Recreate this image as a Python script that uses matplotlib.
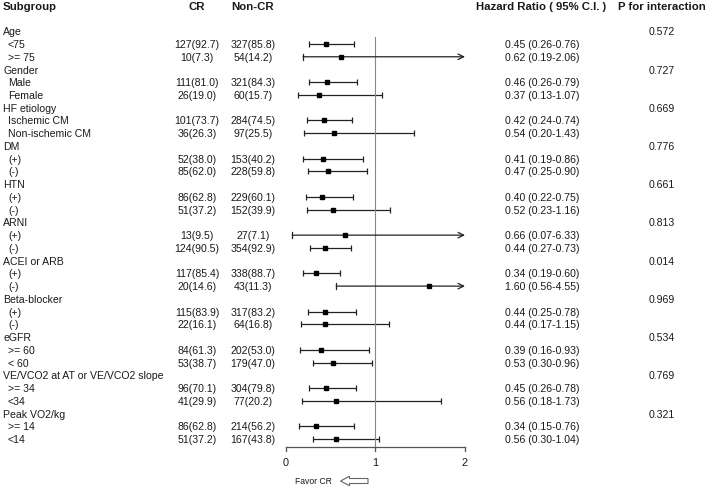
import matplotlib
matplotlib.use("Agg")
import matplotlib.pyplot as plt
from matplotlib.transforms import blended_transform_factory

plt.rcParams['font.family'] = ['Liberation Sans', 'DejaVu Sans']

groups = ["Age", "Gender", "HF etiology", "DM", "HTN", "ARNI", "ACEI or ARB",
          "Beta-blocker", "eGFR", "VE/VCO2 at AT or VE/VCO2 slope", "Peak VO2/kg"]
subgroups = [["<75", ">= 75"], ["Male", "Female"], ["Ischemic CM", "Non-ischemic CM"],
             ["(+)", "(-)"], ["(+)", "(-)"], ["(+)", "(-)"], ["(+)", "(-)"],
             ["(+)", "(-)"], [">= 60", "< 60"], [">= 34", "<34"], [">= 14", "<14"]]
cr = ["127(92.7)", "10(7.3)", "111(81.0)", "26(19.0)", "101(73.7)", "36(26.3)",
      "52(38.0)", "85(62.0)", "86(62.8)", "51(37.2)", "13(9.5)", "124(90.5)",
      "117(85.4)", "20(14.6)", "115(83.9)", "22(16.1)", "84(61.3)", "53(38.7)",
      "96(70.1)", "41(29.9)", "86(62.8)", "51(37.2)"]
noncr = ["327(85.8)", "54(14.2)", "321(84.3)", "60(15.7)", "284(74.5)", "97(25.5)",
         "153(40.2)", "228(59.8)", "229(60.1)", "152(39.9)", "27(7.1)", "354(92.9)",
         "338(88.7)", "43(11.3)", "317(83.2)", "64(16.8)", "202(53.0)", "179(47.0)",
         "304(79.8)", "77(20.2)", "214(56.2)", "167(43.8)"]
hr = [0.45, 0.62, 0.46, 0.37, 0.42, 0.54, 0.41, 0.47, 0.40, 0.52, 0.66, 0.44,
      0.34, 1.60, 0.44, 0.44, 0.39, 0.53, 0.45, 0.56, 0.34, 0.56]
lo = [0.26, 0.19, 0.26, 0.13, 0.24, 0.20, 0.19, 0.25, 0.22, 0.23, 0.07, 0.27,
      0.19, 0.56, 0.25, 0.17, 0.16, 0.30, 0.26, 0.18, 0.15, 0.30]
hi = [0.76, 2.06, 0.79, 1.07, 0.74, 1.43, 0.86, 0.90, 0.75, 1.16, 6.33, 0.73,
      0.60, 4.55, 0.78, 1.15, 0.93, 0.96, 0.78, 1.73, 0.76, 1.04]
p_int = ["0.572", "0.727", "0.669", "0.776", "0.661", "0.813", "0.014", "0.969",
         "0.534", "0.769", "0.321"]
headers = ["Subgroup", "CR", "Non-CR", "Hazard Ratio ( 95% C.I. )", "P for interaction"]

W, H = 708, 489
x0_px, unit_px = 286, 89.5      # pixel of HR=0 and pixels per HR unit
row0_px, row_px = 32.3, 12.74   # pixel of first row and row height
xmax = 2.0

fig = plt.figure(figsize=(W / 100, H / 100), dpi=100)
ax = fig.add_axes([0, 0, 1, 1])
ax.set_xlim(-x0_px / unit_px, (W - x0_px) / unit_px)
ax.set_ylim((H - row0_px) / row_px, -row0_px / row_px)
ax.axis('off')

def row(py):
    return (py - row0_px) / row_px

tr = blended_transform_factory(fig.transFigure, ax.transData)
fs = 7.6
tc = '#1a1a1a'

# headers
hx = [3, 197, 253, 541, 662]
hal = ['left', 'center', 'center', 'center', 'center']
for t, x, a in zip(headers, hx, hal):
    ax.text(x / W, row(7.5), t, transform=tr, ha=a, va='center',
            fontsize=8.2, fontweight='bold', color=tc)

r = 0
k = 0
for gi, g in enumerate(groups):
    ax.text(3 / W, r, g, transform=tr, ha='left', va='center', fontsize=fs, color=tc)
    ax.text(662 / W, r, p_int[gi], transform=tr, ha='center', va='center', fontsize=fs, color=tc)
    r += 1
    for s in subgroups[gi]:
        ax.text(8 / W, r, s, transform=tr, ha='left', va='center', fontsize=fs, color=tc)
        ax.text(197 / W, r, cr[k], transform=tr, ha='center', va='center', fontsize=fs, color=tc)
        ax.text(253 / W, r, noncr[k], transform=tr, ha='center', va='center', fontsize=fs, color=tc)
        ax.text(505 / W, r, f"{hr[k]:.2f} ({lo[k]:.2f}-{hi[k]:.2f})", transform=tr,
                ha='left', va='center', fontsize=fs, color=tc)
        # CI line
        if hi[k] > xmax:
            ax.annotate('', xy=(xmax, r), xytext=(lo[k], r),
                        arrowprops=dict(arrowstyle='->,head_length=0.4,head_width=0.2',
                                        color='#222222', lw=0.9, shrinkA=0, shrinkB=0))
            ax.plot([lo[k], lo[k]], [r - 0.22, r + 0.22], color='#222222', lw=0.9)
        else:
            ax.errorbar(hr[k], r, xerr=[[hr[k] - lo[k]], [hi[k] - hr[k]]], fmt='none',
                        ecolor='#222222', elinewidth=0.9, capsize=2.3, capthick=0.9)
        ax.plot(hr[k], r, marker='s', color='black', markersize=3.3, zorder=5)
        r += 1
        k += 1

# reference line and axis
axis_row = row(447.5)
tick_len = 4.5 / row_px
ax.plot([1, 1], [row(38), axis_row + tick_len], color='#888888', lw=0.8)
ax.plot([0, 2], [axis_row, axis_row], color='#555555', lw=0.9)
for t in [0, 1, 2]:
    ax.plot([t, t], [axis_row, axis_row + tick_len], color='#555555', lw=0.9)
    ax.text(t, row(463), str(t), ha='center', va='center', fontsize=7.8, color=tc)

# favor label and hollow arrow
ax.text((332 - x0_px) / unit_px, row(482), "Favor CR", ha='right', va='center',
        fontsize=6.2, color=tc)
ax.arrow((368 - x0_px) / unit_px, row(482), -(27.5 / unit_px), 0,
         width=5 / row_px, head_width=9.5 / row_px, head_length=9 / unit_px,
         length_includes_head=True, facecolor='white', edgecolor='#666666', lw=0.8)

fig.savefig("out.png", dpi=100)
